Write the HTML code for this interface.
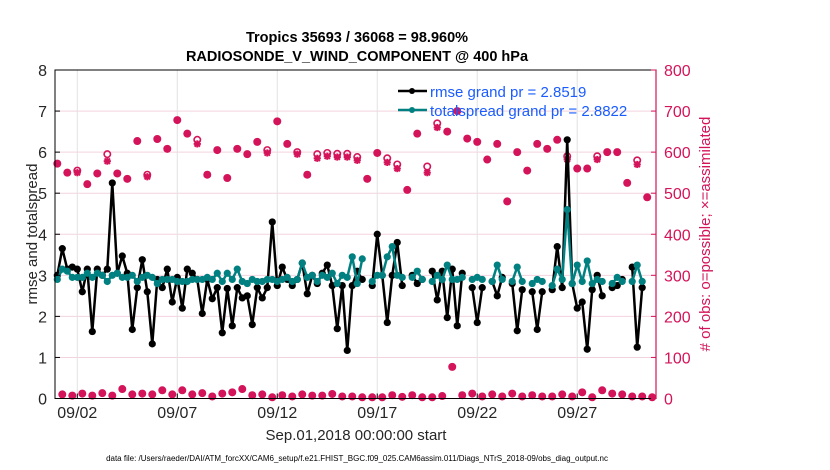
<!DOCTYPE html>
<html><head><meta charset="utf-8"><style>
body{margin:0;background:#fff;}
svg text{font-family:"Liberation Sans",sans-serif;}
</style></head><body>
<svg id="chart" width="830" height="470" viewBox="0 0 830 470" xmlns="http://www.w3.org/2000/svg" style="position:absolute;left:0;top:0">
<rect width="830" height="470" fill="#fff"/>
<g id="grid"></g><g id="series"></g><g id="axes"></g>
</svg>
<script>
// ---- data ----
const xTickLabels = ["09/02","09/07","09/12","09/17","09/22","09/27"];
const xTickDays = [1,6,11,16,21,26];
const leftTicks = [0,1,2,3,4,5,6,7,8];
const rightTicks = [0,100,200,300,400,500,600,700,800];
// 6-hourly rmse (null = missing)
const rmse = [3.0,3.65,3.15,3.2,3.15,2.6,3.15,1.63,3.15,3.0,3.15,5.25,3.05,3.47,3.05,1.68,2.7,3.38,2.6,1.33,2.9,2.7,3.15,2.35,2.95,2.2,3.15,3.05,2.9,2.07,2.9,2.43,2.7,1.6,2.68,1.77,2.7,2.45,2.5,1.8,
2.7,2.45,2.7,4.3,2.75,3.2,2.9,2.75,2.9,3.3,2.55,3.0,2.8,3.05,3.25,2.75,1.7,2.75,1.17,2.75,3.1,2.9,null,2.75,4.0,3.0,1.85,3.0,3.8,2.75,null,3.0,2.8,2.9,null,3.1,
2.4,3.1,1.97,3.15,1.77,3.05,null,2.7,1.85,2.7,null,2.85,2.5,2.95,null,2.8,1.65,2.65,null,2.6,1.68,2.6,null,2.65,3.7,2.7,6.3,2.8,2.2,2.35,1.2,2.65,3.0,2.5,null,2.7,2.75,2.9,null,3.2,1.25,2.7];
const spread = [2.9,3.15,3.1,2.95,2.95,2.95,3.05,2.95,3.05,3.0,2.85,3.0,3.05,2.95,2.95,3.0,2.85,2.95,3.0,2.95,2.8,2.9,2.9,2.9,2.85,2.85,2.85,2.9,2.9,2.9,2.95,2.9,3.05,2.85,3.05,2.9,3.15,2.85,2.8,2.9,
2.85,2.85,2.9,2.9,2.85,2.9,2.95,2.85,2.9,3.3,2.95,3.0,2.85,3.0,2.95,3.05,2.8,3.0,2.95,3.45,2.8,3.4,null,2.85,3.0,3.0,3.45,3.7,3.0,2.95,null,2.95,3.1,2.9,null,2.85,
3.0,2.9,3.25,2.9,2.9,2.95,null,2.9,2.95,2.9,null,2.85,3.25,2.9,null,2.85,3.2,2.85,null,2.8,2.9,2.85,null,2.75,3.15,2.9,4.6,2.8,3.25,2.85,3.35,2.8,2.9,2.85,null,2.8,2.95,2.85,null,2.85,3.25,2.85];
// obs counts at 00Z/12Z and 06Z/18Z
const assimMain = [572,550,550,522,548,578,548,535,627,540,632,608,678,645,620,545,605,537,608,595,625,598,675,620,595,545,585,590,588,588,580,535,598,575,560,508,645,550,660,650,700,633,625,582,620,480,600,555,620,608,630,582,560,560,582,600,600,525,570,490];
const possMain  = [572,550,555,522,548,595,548,535,627,545,632,608,678,645,630,545,605,537,608,595,625,605,675,620,600,545,595,598,596,596,588,535,598,585,570,508,645,565,670,650,700,633,625,582,620,480,600,555,620,608,630,590,560,560,590,600,600,525,580,490];
const assimOff = [10,7,12,7,13,7,23,10,12,10,20,10,20,10,13,5,12,15,23,8,10,3,8,5,10,7,7,11,5,5,3,3,3,8,4,8,3,3,6,77,8,12,5,10,5,12,5,8,5,5,10,5,15,3,20,12,10,5,5,3];
const possOff = assimOff.slice();
// ---- scales ----
const X0=55,X1=656,Y0=398.5,Y1=70, D0=-0.115, D1=29.94;
const xs = d => X0+(d-D0)/(D1-D0)*(X1-X0);
const yl = v => Y0-(v/8)*(Y0-Y1);
const yr = v => Y0-(v/800)*(Y0-Y1);
const NS="http://www.w3.org/2000/svg";
function mk(tag,attrs,parent){const e=document.createElementNS(NS,tag);for(const k in attrs)e.setAttribute(k,attrs[k]);parent.appendChild(e);return e;}
const grid=document.getElementById('grid'),ser=document.getElementById('series'),ax=document.getElementById('axes');
const PINK="#d4145a";
rightTicks.forEach(t=>{const l=mk('line',{x1:X0,x2:X1,y1:yr(t),y2:yr(t),stroke:'#f3d3df','stroke-width':1},grid);

});
xTickDays.forEach(d=>{const l=mk('line',{x1:xs(d),x2:xs(d),y1:Y1,y2:Y0,stroke:'#e2e2e2','stroke-width':1},grid);

});
function star(x,y,p,name){const g=mk('g',{stroke:PINK,'stroke-width':2,fill:'none'},p);


const r=3.6;mk('line',{x1:x-r,x2:x+r,y1:y,y2:y},g);mk('line',{x1:x,x2:x,y1:y-r,y2:y+r},g);
mk('line',{x1:x-r*.75,x2:x+r*.75,y1:y-r*.75,y2:y+r*.75},g);mk('line',{x1:x-r*.75,x2:x+r*.75,y1:y+r*.75,y2:y-r*.75},g);}
function circ(x,y,p,name){const c=mk('circle',{cx:x,cy:y,r:3.2,stroke:PINK,'stroke-width':1.6,fill:'none'},p);

}
const obsG=mk('g',{},ser);
assimMain.forEach((v,j)=>{const d=j*0.5;circ(xs(d),yr(possMain[j]),obsG,'obs-possible');star(xs(d),yr(v),obsG,'obs-assimilated');});
assimOff.forEach((v,j)=>{const d=j*0.5+0.25;circ(xs(d),yr(possOff[j]),obsG,'obs-possible');star(xs(d),yr(v),obsG,'obs-assimilated');});
function series(vals,color,name){const g=mk('g',{},ser);


let seg=[];const segs=[];vals.forEach((v,i)=>{if(v==null){if(seg.length)segs.push(seg);seg=[];}else seg.push([xs(i*0.25),yl(v)]);});if(seg.length)segs.push(seg);
segs.forEach(s=>mk('polyline',{points:s.map(p=>p.join(',')).join(' '),fill:'none',stroke:color,'stroke-width':2.5,'stroke-linejoin':'round'},g));
vals.forEach((v,i)=>{if(v==null)return;const c=mk('circle',{cx:xs(i*0.25),cy:yl(v),r:3.6,fill:color},g);

});}
series(rmse,'#000','rmse-series');
series(spread,'#008080','totalspread-series');
mk('rect',{x:X0,y:Y1,width:X1-X0,height:Y0-Y1,fill:'none',stroke:'#000','stroke-width':1},ax);
mk('line',{x1:X1,x2:X1,y1:Y1,y2:Y0,stroke:PINK,'stroke-width':1.2},ax);
leftTicks.forEach(t=>{mk('line',{x1:X0,x2:X0+5,y1:yl(t),y2:yl(t),stroke:'#000'},ax);
const tx=mk('text',{x:X0-8,y:yl(t)+6,'text-anchor':'end','font-size':16,fill:'#262626'},ax);tx.textContent=t;

});
rightTicks.forEach(t=>{mk('line',{x1:X1-5,x2:X1,y1:yr(t),y2:yr(t),stroke:PINK},ax);
const tx=mk('text',{x:X1+8,y:yr(t)+6,'font-size':16,fill:PINK},ax);tx.textContent=t;

});
xTickDays.forEach((d,k)=>{mk('line',{x1:xs(d),x2:xs(d),y1:Y0,y2:Y0-5,stroke:'#000'},ax);
const tx=mk('text',{x:xs(d),y:418,'text-anchor':'middle','font-size':16,fill:'#262626'},ax);tx.textContent=xTickLabels[k];

});
</script>
<div style="position:absolute;left:0;top:0;width:830px;height:470px;pointer-events:none">
<svg width="830" height="470" style="position:absolute;left:0;top:0">
<text x="357" y="42" text-anchor="middle" font-size="14.5" font-weight="bold" fill="#000">Tropics 35693 / 36068 = 98.960%</text>
<text x="357" y="61" text-anchor="middle" font-size="14.5" font-weight="bold" fill="#000">RADIOSONDE_V_WIND_COMPONENT @ 400 hPa</text>
<text transform="translate(37,234) rotate(-90)" text-anchor="middle" font-size="15" fill="#262626">rmse and totalspread</text>
<text transform="translate(710,234) rotate(-90)" text-anchor="middle" font-size="15" fill="#d4145a"># of obs: o=possible; ×=assimilated</text>
<text x="356" y="440" text-anchor="middle" font-size="15" fill="#262626">Sep.01,2018 00:00:00 start</text>
<text x="357" y="461" text-anchor="middle" font-size="8" fill="#000">data file: /Users/raeder/DAI/ATM_forcXX/CAM6_setup/f.e21.FHIST_BGC.f09_025.CAM6assim.011/Diags_NTrS_2018-09/obs_diag_output.nc</text>
<g>
<line x1="398" x2="427" y1="91" y2="91" stroke="#000" stroke-width="2.5"/><circle cx="412" cy="91" r="3" fill="#000"/>
<text x="430" y="97" font-size="15" fill="#1a5cff">rmse grand pr = 2.8519</text>
<line x1="398" x2="427" y1="110" y2="110" stroke="#008080" stroke-width="2.5"/><circle cx="412" cy="110" r="3" fill="#008080"/>
<text x="430" y="116" font-size="15" fill="#1a5cff">totalspread grand pr = 2.8822</text>
</g>
</svg></div>
</body></html>
